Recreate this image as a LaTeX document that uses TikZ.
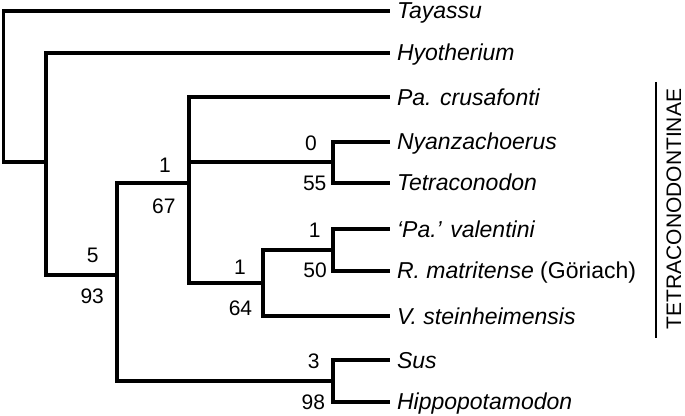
\documentclass[tikz,border=0pt]{standalone}
\usepackage{fontspec}
\setmainfont{Liberation Sans}
\usepackage{xcolor}
\usepackage{tikz}
\usetikzlibrary{positioning}

\begin{document}
\begin{tikzpicture}[x = 0.5pt, y = -0.5pt]
            \tikzstyle{taxon} = [anchor = west, font = \fontsize{11.5}{13}\selectfont\itshape, text height = 8.2pt, text depth = 0pt];
            \tikzstyle{support} = [inner sep = 0pt, font = \fontsize{10.5}{12}\selectfont];
            \tikzstyle{branch} = [line width = 1.95pt];
            \tikzstyle{clade} = [rotate = 90, font = \fontsize{10.5}{12}\selectfont];
            \useasboundingbox (0, 0) rectangle (685, 416);

            \node [taxon] (T0) at (390, 10.7) {Tayassu};
            \node [taxon] (T1) at (390, 52.7) {Hyotherium};
            \node [taxon] (T2) at (390, 97.3) {Pa. crusafonti};
            \node [taxon] (T3) at (390, 141.7) {Nyanzachoerus};
            \node [taxon] (T4) at (390, 182.7) {Tetraconodon};
            \node [taxon] (T5) at (390, 229.3) {`Pa.' valentini};
            \node [taxon] (T6) at (390, 270.7) {R. matritense \textup{(Göriach)}};
            \node [taxon] (T7) at (390, 316) {V. steinheimensis};
            \node [taxon] (T8) at (390, 360) {Sus};
            \node [taxon] (T9) at (390, 401.7) {Hippopotamodon};

            \coordinate (J0) at (3.5, 86);
            \coordinate (J1) at (46, 162);
            \coordinate (J2) at (117.3, 275);
            \coordinate (J3) at (189.3, 183.3);
            \coordinate (J4) at (332.7, 162);
            \coordinate (J5) at (263.3, 282.7);
            \coordinate (J6) at (332.7, 250);
            \coordinate (J7) at (332.7, 381);

            \draw [branch] (J0) |- (T0.west);
            \draw [branch] (J0) |- (J1);
            \draw [branch] (J1) |- (T1.west);
            \draw [branch] (J1) |- (J2);
            \draw [branch] (J2) |- (J3);
            \draw [branch] (J2) |- (J7);
            \draw [branch] (J3) |- (T2.west);
            \draw [branch] (J3) |- (J4);
            \draw [branch] (J3) |- (J5);
            \draw [branch] (J4) |- (T3.west);
            \draw [branch] (J4) |- (T4.west);
            \draw [branch] (J5) |- (J6);
            \draw [branch] (J5) |- (T7.west);
            \draw [branch] (J6) |- (T5.west);
            \draw [branch] (J6) |- (T6.west);
            \draw [branch] (J7) |- (T8.west);
            \draw [branch] (J7) |- (T9.west);

            \node [support] (L0) at (311, 143) {0};
            \node [support] (L1) at (314.7, 183) {55};
            \node [support] (L2) at (165, 165) {1};
            \node [support] (L3) at (163.8, 206) {67};
            \node [support] (L4) at (314.7, 230) {1};
            \node [support] (L5) at (315, 270.3) {50};
            \node [support] (L6) at (240, 267) {1};
            \node [support] (L7) at (240.5, 308.3) {64};
            \node [support] (L8) at (92.7, 255) {5};
            \node [support] (L9) at (92.2, 296) {93};
            \node [support] (L10) at (313.7, 361.7) {3};
            \node [support] (L11) at (313.3, 402.5) {98};

            \coordinate (C0) at (655.7, 82);
            \coordinate (C1) at (655.7, 338);
            \draw [line width = 1pt] (C0) -- (C1);
            \node [clade] (C2) at (674, 209) {TETRACONODONTINAE};
        \end{tikzpicture}
\end{document}
